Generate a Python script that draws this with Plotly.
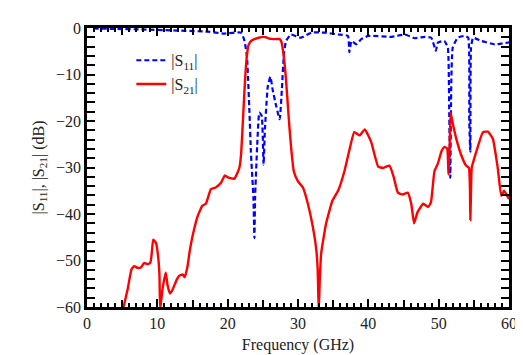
import plotly.graph_objects as go

# |S21| (red, solid)
s21_freq = [4.8, 5.2, 5.8, 6.33, 6.7, 7.2, 7.66, 8.14, 8.6, 9.0, 9.2, 9.42, 9.8, 10.1, 10.3, 10.4,
            10.75, 11.2, 11.46, 11.8, 12.1, 12.4, 12.8, 13.1, 13.6, 13.9, 14.3, 14.6, 15.0, 15.7,
            16.4, 16.9, 17.6, 18.3, 19.05, 19.6, 20.1, 20.95, 21.66, 21.9, 22.2, 22.47, 22.7,
            22.94, 23.3, 23.8, 24.4, 25.0, 25.5, 25.9, 26.6, 27.4, 27.65, 27.8, 28.05, 28.3,
            28.55, 28.8, 29.1, 29.4, 30.0, 30.7, 31.4, 32.1, 32.6, 32.8, 32.95, 33.1, 33.3,
            34.0, 34.9, 35.7, 36.6, 37.3, 38.0, 38.75, 39.5, 40.4, 41.4, 42.1, 43.0, 43.6,
            44.2, 44.9, 45.6, 46.1, 46.5, 47.0, 47.8, 48.5, 48.9, 49.4, 49.9, 50.4, 50.8,
            51.2, 51.4, 51.55, 51.7, 52.0, 52.5, 53.2, 53.9, 54.3, 54.45, 54.5, 54.6, 54.7,
            55.35, 56.3, 57.0, 57.7, 58.4, 58.9, 59.3, 60.0]
s21_db = [-63.0, -60.0, -56.0, -51.9, -51.2, -51.6, -51.5, -50.5, -50.8, -50.5, -48.5, -45.5, -46.2,
          -49.0, -53.0, -60.5, -56.0, -52.6, -55.4, -57.1, -56.5, -55.4, -54.0, -53.3, -53.0,
          -53.6, -51.2, -48.0, -44.8, -40.6, -38.2, -37.8, -34.7, -34.3, -33.3, -31.7, -32.2,
          -32.4, -30.1, -27.3, -19.0, -11.2, -6.5, -3.8, -2.8, -2.4, -2.1, -1.9, -2.0, -2.3,
          -2.4, -2.4, -3.0, -4.2, -7.0, -11.2, -16.5, -21.7, -27.0, -30.8, -33.0, -34.3, -37.8,
          -42.7, -47.7, -52.0, -61.0, -54.0, -48.4, -42.0, -37.1, -35.0, -30.8, -26.3, -22.4,
          -23.1, -21.8, -24.5, -29.8, -30.1, -29.6, -32.0, -35.4, -35.8, -35.4, -37.8, -42.0,
          -39.6, -37.8, -38.5, -37.5, -30.8, -29.1, -26.5, -25.6, -25.9, -31.5, -26.0, -18.2,
          -20.5, -23.8, -27.3, -29.6, -30.1, -35.0, -41.3, -35.0, -30.1, -26.6, -22.4, -22.3,
          -23.8, -30.1, -36.1, -35.0, -36.8]

# |S11| (blue, dashed)
s11_freq = [0.93, 4.0, 7.7, 12.0, 17.2, 19.5, 21.9, 22.4, 22.75, 23.1, 23.3, 23.66, 23.8, 23.9,
            24.2, 24.5, 24.84, 25.1, 25.3, 25.7, 26.07, 26.4, 26.9, 27.4, 27.7, 28.0, 28.3,
            29.0, 30.4, 31.9, 33.8, 35.7, 37.1, 37.3, 37.6, 38.3, 39.0, 40.0, 43.3, 45.2, 46.6,
            48.0, 48.95, 49.6, 49.9, 50.8, 51.3, 51.5, 51.65, 51.8, 52.0, 52.7, 53.7, 54.2,
            54.35, 54.5, 54.6, 54.9, 56.1, 57.96, 60.0]
s11_db = [-0.1, -0.2, -0.3, -0.5, -0.8, -1.2, -1.0, -2.8, -6.3, -18.2, -26.6, -36.5, -45.2, -36.4,
          -25.2, -18.2, -18.9, -29.4, -21.7, -12.6, -10.5, -13.3, -16.8, -19.6, -13.3, -5.6,
          -2.8, -1.4, -2.1, -1.0, -1.0, -1.4, -1.7, -5.2, -2.8, -3.5, -2.4, -1.7, -1.9, -1.4,
          -2.2, -1.9, -2.1, -4.9, -3.1, -2.8, -4.2, -18.2, -32.2, -11.2, -4.2, -2.1, -1.7,
          -2.1, -20.0, -26.6, -4.2, -2.1, -2.8, -3.5, -3.1]

x_tickvals = [0, 10, 20, 30, 40, 50, 60]
x_midticks = [5, 15, 25, 35, 45, 55]
y_tickvals = [0, -10, -20, -30, -40, -50, -60]

serif = "Liberation Serif"
txt = "#222"

fig = go.Figure()
fig.add_trace(go.Scatter(x=s11_freq, y=s11_db, mode="lines", name="|S<sub>11</sub>|",
                         line=dict(color="#0000ff", width=2.2, dash="5px,3px",
                                   shape="spline", smoothing=0.4)))
fig.add_trace(go.Scatter(x=s21_freq, y=s21_db, mode="lines", name="|S<sub>21</sub>|",
                         line=dict(color="#ff0000", width=2.4, shape="spline", smoothing=0.4)))
# invisible helper trace that carries the 5-GHz mid ticks axis
fig.add_trace(go.Scatter(x=[0, 60], y=[-60, 0], xaxis="x2", mode="lines",
                         line=dict(width=0), showlegend=False, hoverinfo="skip"))

axis_common = dict(showgrid=False, zeroline=False, showline=True, linecolor="black", linewidth=2.5,
                   mirror="allticks", ticks="inside", tickcolor="black", tickwidth=2, ticklen=8,
                   tickfont=dict(family=serif, size=16, color=txt))

fig.update_layout(
    xaxis=dict(range=[0, 60], tickvals=x_tickvals,
               minor=dict(dtick=1, ticks="inside", ticklen=4, tickwidth=2, tickcolor="black"),
               title=dict(text="Frequency (GHz)", font=dict(family=serif, size=16, color=txt),
                          standoff=8),
               **axis_common),
    xaxis2=dict(range=[0, 60], overlaying="x", side="bottom", anchor="y", tickvals=x_midticks,
                showticklabels=False, showgrid=False, zeroline=False, showline=False,
                ticks="inside", mirror="allticks", ticklen=7, tickwidth=2, tickcolor="black"),
    yaxis=dict(range=[-60, 0], tickvals=y_tickvals,
               minor=dict(dtick=2, ticks="inside", ticklen=4, tickwidth=2, tickcolor="black"),
               title=dict(text="|S<sub>11</sub>|, |S<sub>21</sub>| (dB)",
                          font=dict(family=serif, size=16, color=txt), standoff=8),
               **axis_common),
)

fig.update_layout(width=523, height=355, margin=dict(l=79, r=22, t=13, b=56),
                  plot_bgcolor="white", paper_bgcolor="white",
                  legend=dict(x=0.105, y=0.945, xanchor="left", yanchor="top",
                              bgcolor="rgba(0,0,0,0)",
                              font=dict(family=serif, size=16, color=txt), tracegroupgap=4))

fig.write_html("out.html")
